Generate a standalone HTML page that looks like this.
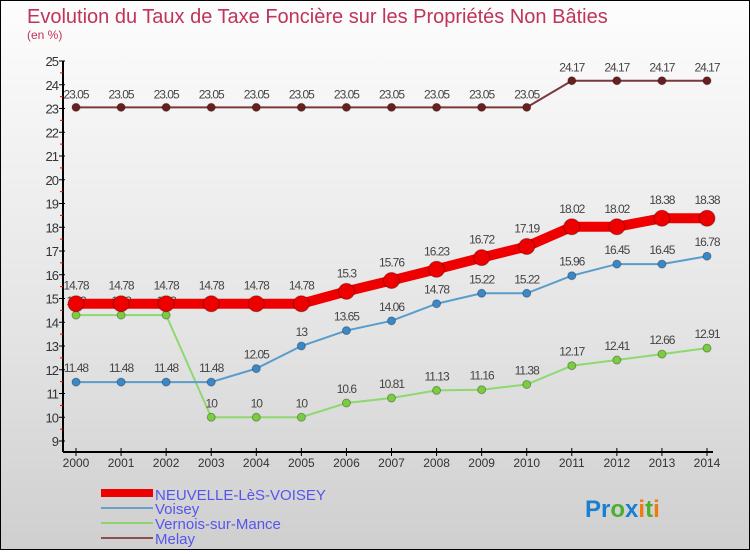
<!DOCTYPE html>
<html><head><meta charset="utf-8"><style>
body{margin:0;width:750px;height:550px;overflow:hidden;font-family:"Liberation Sans",sans-serif}
#wrap{position:relative;width:748px;height:548px;border:1px solid #000;background:linear-gradient(#fdfdfd,#e4e4e4 60%,#cfcfcf)}
</style></head><body>
<div id="wrap">
<svg id="c" width="748" height="548">
<text x="26" y="22" font-size="20" fill="#c0335a">Evolution du Taux de Taxe Foncière sur les Propriétés Non Bâties</text>
<text x="26" y="38" font-size="12" fill="#c0335a">(en %)</text>
<g id="axes"></g><g id="series"></g>
<g>
<rect x="100" y="488" width="52" height="8" fill="#e00"/>
<text x="154" y="499" font-size="15" fill="#5555ee">NEUVELLE-LèS-VOISEY</text>
<rect x="100" y="506" width="52" height="2" fill="#6aa0c8"/>
<text x="154" y="513" font-size="15" fill="#5555ee">Voisey</text>
<rect x="100" y="521" width="52" height="2" fill="#8fd070"/>
<text x="154" y="528" font-size="15" fill="#5555ee">Vernois-sur-Mance</text>
<rect x="100" y="536" width="52" height="2" fill="#8a5050"/>
<text x="154" y="543" font-size="15" fill="#5555ee">Melay</text>
</g>
<text x="584" y="516" font-size="24" font-weight="bold"><tspan fill="#1a7fd0">Pr</tspan><tspan fill="#4caf30">o</tspan><tspan fill="#1a7fd0">x</tspan><tspan fill="#f07a10">i</tspan><tspan fill="#4caf30">t</tspan><tspan fill="#f07a10">i</tspan></text>
</svg></div>
<script>
const years=[2000,2001,2002,2003,2004,2005,2006,2007,2008,2009,2010,2011,2012,2013,2014];
const neuvelle=[14.78,14.78,14.78,14.78,14.78,14.78,15.3,15.76,16.23,16.72,17.19,18.02,18.02,18.38,18.38];
const voisey=[11.48,11.48,11.48,11.48,12.05,13,13.65,14.06,14.78,15.22,15.22,15.96,16.45,16.45,16.78];
const vernois=[14.3,14.3,14.3,10,10,10,10.6,10.81,11.13,11.16,11.38,12.17,12.41,12.66,12.91];
const melay=[23.05,23.05,23.05,23.05,23.05,23.05,23.05,23.05,23.05,23.05,23.05,24.17,24.17,24.17,24.17];
const yTicks=[9,10,11,12,13,14,15,16,17,18,19,20,21,22,23,24,25];
const NS="http://www.w3.org/2000/svg";
function X(i){return 75+i*(706-75)/(years.length-1);}
function Y(v){return 440-(v-9)*23.75;}
function mk(t,a,p){const e=document.createElementNS(NS,t);for(const k in a)e.setAttribute(k,a[k]);(p||document.getElementById('series')).appendChild(e);return e;}
const ax=document.getElementById('axes');
let e=mk('line',{x1:62,y1:Y(25),x2:62,y2:451,stroke:'#000','stroke-width':2},ax);


e=mk('line',{x1:62,y1:451,x2:712,y2:451,stroke:'#000','stroke-width':2},ax);


yTicks.forEach(v=>{
 mk('line',{x1:58,y1:Y(v),x2:64,y2:Y(v),stroke:'#000'},ax);
 if(v<25)mk('line',{x1:59,y1:Y(v+0.5),x2:62,y2:Y(v+0.5),stroke:'#e00'},ax);
 const t=mk('text',{x:57,y:Y(v)+5,'font-size':13,'text-anchor':'end',fill:'#333','letter-spacing':'-1'},ax);
 t.textContent=v;
 
 
});
years.forEach((y,i)=>{
 mk('line',{x1:X(i),y1:447,x2:X(i),y2:455,stroke:'#000'},ax);
 const t=mk('text',{x:X(i),y:466,'font-size':12,'text-anchor':'middle',fill:'#333'},ax);
 t.textContent=y;
 
 
});
function series(name,vals,color,dot,w,r,lblDy){
 const g=mk('g',{});
 
 
 mk('polyline',{points:vals.map((v,i)=>X(i)+','+Y(v)).join(' '),fill:'none',stroke:color,'stroke-width':w},g);
 vals.forEach((v,i)=>{
  const c=mk('circle',{cx:X(i),cy:Y(v),r:r,fill:dot,stroke:'rgba(0,0,0,0.3)','stroke-width':1},g);
  
  
  const t=mk('text',{x:X(i),y:Y(v)+lblDy,'font-size':12,'text-anchor':'middle',fill:'#444','letter-spacing':'-1'},g);
  t.textContent=v;
  
  
 });
}
series('melay',melay,'#7a3a3a','#6a1f1f',2,4,-9);
series('vernois',vernois,'#8fd870','#7acc40',2,4,-10);
series('voisey',voisey,'#5a9ccc','#3a88c8',2,4,-10);
series('neuvelle',neuvelle,'#ee0000','#ee0000',10,8,-14);
</script>
</body></html>
